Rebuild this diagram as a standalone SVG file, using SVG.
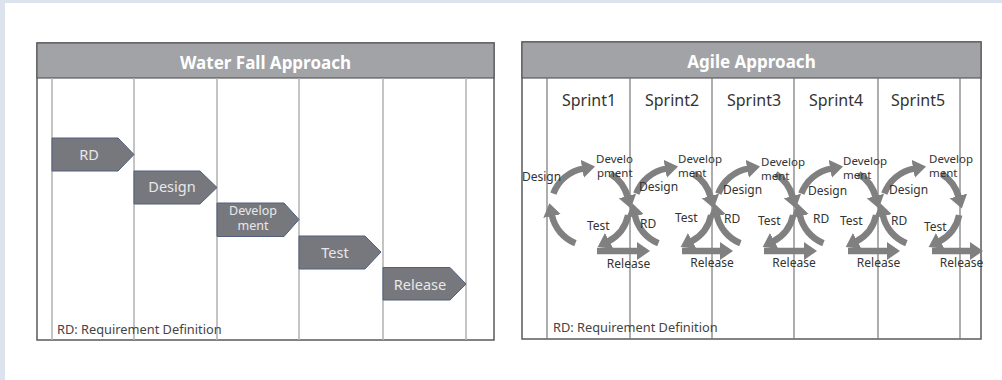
<svg xmlns="http://www.w3.org/2000/svg" xmlns:xlink="http://www.w3.org/1999/xlink" width="1002" height="380" viewBox="0 0 1002 380">
  <style>
    .panel { fill: #ffffff; stroke: #5a5a5a; stroke-width: 1.5; }
    .header { fill: #a2a3a7; stroke: #5a5a5a; stroke-width: 1.2; }
    .title { font-family: "Noto Sans", "Open Sans", sans-serif; font-size: 17px; font-weight: bold; fill: #ffffff; text-anchor: middle; }
    .wline { stroke: #b0b0b0; stroke-width: 1.5; }
    .aline { stroke: #777777; stroke-width: 1.2; }
    .step { fill: #77787d; stroke: #50607f; stroke-width: 1; }
    .steptxt { font-family: "Noto Sans", "Open Sans", sans-serif; font-size: 14.5px; fill: #e8e8e8; text-anchor: middle; }
    .steptxt2 { font-family: "Noto Sans", "Open Sans", sans-serif; font-size: 12.5px; fill: #e8e8e8; text-anchor: middle; }
    .note { font-family: "Noto Sans", "Open Sans", sans-serif; font-size: 12.8px; fill: #444444; }
    .sprint { font-family: "Noto Sans", "Open Sans", sans-serif; font-size: 16px; fill: #333333; text-anchor: middle; }
    .lbl { font-family: "Noto Sans", "Open Sans", sans-serif; font-size: 12px; fill: #333333; }
    .dev { font-family: "Noto Sans", "Open Sans", sans-serif; font-size: 11.5px; fill: #333333; }
    .mid { text-anchor: middle; }
    .arc { fill: none; stroke: #808080; stroke-width: 6.5; marker-end: url(#ah); }
  </style>
  <defs>
    <marker id="ah" viewBox="0 0 13 18" refX="1" refY="9" markerWidth="13" markerHeight="18" markerUnits="userSpaceOnUse" orient="auto">
      <path d="M0,0 L13,9 L0,18 Z" fill="#808080"/>
    </marker>
    <g id="cycle">
      <path class="arc" d="M-14.61,36.16 A39,39 0 0 1 -38.15,8.11"/>
      <path class="arc" d="M-36.65,-13.34 A39,39 0 0 1 -6.77,-38.41"/>
      <path class="arc" d="M20.67,-33.07 A39,39 0 0 1 37.67,-10.09"/>
      <path class="arc" d="M38.15,8.11 A39,39 0 0 1 18.31,34.43"/>
    </g>
  </defs>

  <rect x="0" y="0" width="1002" height="380" fill="#dde3ed"/>
  <rect x="5" y="3" width="997" height="377" fill="#ffffff"/>

  <!-- Waterfall panel -->
  <g id="waterfall-panel">
    <rect class="panel" x="37" y="43" width="457" height="297"/>
    <rect class="header" x="37" y="43" width="457" height="35"/>
    <text class="title" x="265.5" y="69">Water Fall Approach</text>
    <line class="wline" x1="52" y1="78" x2="52" y2="340"/>
    <line class="wline" x1="134" y1="78" x2="134" y2="340"/>
    <line class="wline" x1="217" y1="78" x2="217" y2="340"/>
    <line class="wline" x1="299" y1="78" x2="299" y2="340"/>
    <line class="wline" x1="383" y1="78" x2="383" y2="340"/>
    <line class="wline" x1="466" y1="78" x2="466" y2="340"/>
    <text class="note" x="57" y="334">RD: Requirement Definition</text>
  </g>

  <g id="wf-rd">
    <polygon class="step" points="52,138 118,138 134,154.5 118,171 52,171"/>
    <text class="steptxt" x="89" y="160">RD</text>
  </g>
  <g id="wf-design">
    <polygon class="step" points="134,171 200,171 217,187.5 200,204 134,204"/>
    <text class="steptxt" x="172" y="192">Design</text>
  </g>
  <g id="wf-development">
    <polygon class="step" points="217,203 284,203 299,219.5 284,236.5 217,236.5"/>
    <text class="steptxt2" x="253" y="215">Develop</text>
    <text class="steptxt2" x="253" y="230">ment</text>
  </g>
  <g id="wf-test">
    <polygon class="step" points="299,236 365,236 381,252 365,269 299,269"/>
    <text class="steptxt" x="335" y="258">Test</text>
  </g>
  <g id="wf-release">
    <polygon class="step" points="383,267.5 450,267.5 466,284 450,300 383,300"/>
    <text class="steptxt" x="420" y="290">Release</text>
  </g>

  <!-- Agile panel -->
  <g id="agile-panel">
    <rect class="panel" x="522" y="42" width="459" height="297"/>
    <rect class="header" x="522" y="42" width="459" height="36"/>
    <text class="title" x="751.5" y="68">Agile Approach</text>
    <line class="aline" x1="547" y1="78" x2="547" y2="339"/>
    <line class="aline" x1="630" y1="78" x2="630" y2="339"/>
    <line class="aline" x1="712" y1="78" x2="712" y2="339"/>
    <line class="aline" x1="794" y1="78" x2="794" y2="339"/>
    <line class="aline" x1="878" y1="78" x2="878" y2="339"/>
    <line class="aline" x1="960" y1="78" x2="960" y2="339"/>
    <text class="note" x="553" y="332">RD: Requirement Definition</text>
  </g>

  <g id="connectors">
    <use xlink:href="#cycle" href="#cycle" x="590" y="207"/>
    <use xlink:href="#cycle" href="#cycle" x="673" y="207"/>
    <use xlink:href="#cycle" href="#cycle" x="755" y="207"/>
    <use xlink:href="#cycle" href="#cycle" x="838" y="207"/>
    <use xlink:href="#cycle" href="#cycle" x="921" y="207"/>
    <path class="arc" d="M597,251 H638"/>
    <path class="arc" d="M682,251 H721"/>
    <path class="arc" d="M764,251 H805"/>
    <path class="arc" d="M848,251 H888"/>
    <path class="arc" d="M932,251 H971"/>
  </g>

  <g id="sprint1">
    <text class="sprint" x="589" y="106">Sprint1</text>
    <text class="lbl" x="522" y="181">Design</text>
    <text class="dev" x="596" y="163">Develo</text>
    <text class="dev" x="597" y="177">pment</text>
    <text class="lbl" x="587" y="230">Test</text>
    <text class="lbl mid" x="628.5" y="268">Release</text>
  </g>
  <g id="sprint2">
    <text class="sprint" x="672" y="106">Sprint2</text>
    <text class="lbl" x="640" y="228">RD</text>
    <text class="lbl" x="639" y="191">Design</text>
    <text class="dev" x="678" y="163">Develop</text>
    <text class="dev" x="678" y="177">ment</text>
    <text class="lbl" x="675" y="222">Test</text>
    <text class="lbl mid" x="712" y="267">Release</text>
  </g>
  <g id="sprint3">
    <text class="sprint" x="754" y="106">Sprint3</text>
    <text class="lbl" x="724" y="223">RD</text>
    <text class="lbl" x="723" y="194">Design</text>
    <text class="dev" x="761" y="166">Develop</text>
    <text class="dev" x="761" y="180">ment</text>
    <text class="lbl" x="758" y="225">Test</text>
    <text class="lbl mid" x="794" y="267">Release</text>
  </g>
  <g id="sprint4">
    <text class="sprint" x="836" y="106">Sprint4</text>
    <text class="lbl" x="813" y="223">RD</text>
    <text class="lbl" x="808" y="195">Design</text>
    <text class="dev" x="843" y="165">Develop</text>
    <text class="dev" x="843" y="179">ment</text>
    <text class="lbl" x="840" y="225">Test</text>
    <text class="lbl mid" x="878.5" y="267">Release</text>
  </g>
  <g id="sprint5">
    <text class="sprint" x="918" y="106">Sprint5</text>
    <text class="lbl" x="891" y="225">RD</text>
    <text class="lbl" x="889" y="194">Design</text>
    <text class="dev" x="929" y="163">Develop</text>
    <text class="dev" x="929" y="177">ment</text>
    <text class="lbl" x="924" y="231">Test</text>
    <text class="lbl mid" x="961.5" y="267">Release</text>
  </g>
</svg>
